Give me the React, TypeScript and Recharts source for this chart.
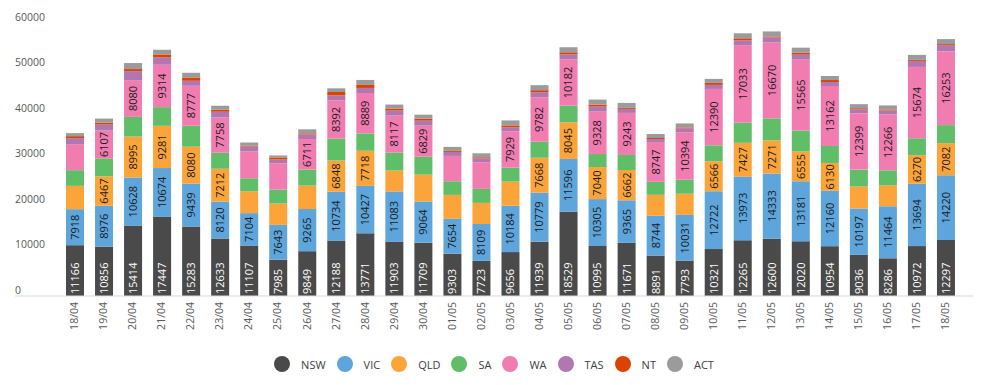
import React from 'react';
import { BarChart, Bar, XAxis, YAxis, Legend, LabelList } from 'recharts';

const dates = [
  '18/04', '19/04', '20/04', '21/04', '22/04', '23/04', '24/04', '25/04', '26/04', '27/04', '28/04', '29/04', '30/04',
  '01/05', '02/05', '03/05', '04/05', '05/05', '06/05', '07/05', '08/05', '09/05', '10/05', '11/05', '12/05', '13/05',
  '14/05', '15/05', '16/05', '17/05', '18/05',
];

const nsw = [11166, 10856, 15414, 17447, 15283, 12633, 11107, 7985, 9849, 12188, 13771, 11903, 11709, 9303, 7723, 9656, 11939, 18529, 10995, 11671, 8891, 7793, 10321, 12265, 12600, 12020, 10954, 9036, 8286, 10972, 12297];
const vic = [7918, 8976, 10628, 10674, 9439, 8120, 7104, 7643, 9265, 10734, 10427, 11083, 9064, 7654, 8109, 10184, 10779, 11596, 10305, 9365, 8744, 10031, 12722, 13973, 14333, 13181, 12160, 10197, 11464, 13694, 14220];
const qld = [5120, 6467, 8995, 9281, 8080, 7212, 4810, 4700, 5150, 6848, 7718, 4590, 5890, 5260, 4630, 5300, 7668, 8045, 7040, 6662, 4600, 4650, 6566, 7427, 7271, 6555, 6130, 4820, 4580, 6270, 7082];
const sa = [3450, 3960, 4330, 4100, 4620, 3520, 2860, 3080, 3520, 4840, 3810, 3960, 3950, 3000, 3080, 3090, 3520, 3660, 2860, 3300, 2850, 3080, 3510, 4400, 4840, 4620, 3740, 3730, 3300, 3740, 3960];
const wa = [5720, 6107, 8080, 9314, 8777, 7758, 5880, 5720, 6711, 8392, 8889, 8117, 6829, 5570, 5850, 7929, 9782, 10182, 9328, 9243, 8747, 10394, 12390, 17033, 16670, 15565, 13162, 12399, 12266, 15674, 16253];
const tas = [1320, 1310, 1980, 1610, 1100, 1250, 1090, 880, 1030, 1100, 1110, 1100, 1090, 880, 870, 890, 1100, 1110, 1100, 880, 660, 880, 890, 1100, 1110, 1100, 880, 870, 880, 1320, 1330];
const nt = [440, 440, 450, 660, 730, 440, 220, 440, 230, 730, 660, 440, 440, 220, 230, 440, 450, 440, 440, 220, 230, 220, 440, 440, 220, 440, 440, 220, 230, 220, 220];
const act = [660, 880, 1320, 1030, 1030, 880, 660, 440, 880, 810, 1100, 880, 880, 880, 870, 1100, 1100, 1110, 1100, 1100, 880, 880, 880, 1100, 1100, 1100, 880, 890, 880, 1100, 1100];

const seriesNames = ['NSW', 'VIC', 'QLD', 'SA', 'WA', 'TAS', 'NT', 'ACT'];
const seriesValues = [nsw, vic, qld, sa, wa, tas, nt, act];
const colors: Record<string, string> = {
  NSW: '#4a4a4a',
  VIC: '#5da5da',
  QLD: '#faa43a',
  SA: '#60bd68',
  WA: '#f17cb0',
  TAS: '#b276b2',
  NT: '#db4400',
  ACT: '#9b9b9b',
};
const yTicks = [0, 5000, 10000, 15000, 20000, 25000, 30000, 35000, 40000, 45000, 50000, 55000, 60000];
const LABEL_MIN = 6000;

const data = dates.map((d, i) => {
  const row: Record<string, any> = { date: d };
  seriesNames.forEach((n, k) => {
    row[n] = seriesValues[k][i];
  });
  return row;
});

const FONT = '"Open Sans", "DejaVu Sans", sans-serif';

const YTick = (props: any) => {
  const { y, payload } = props;
  return (
    <text x={7} y={y - 6} dy="0.355em" textAnchor="start" fill="#595959" fontSize={10.5} fontFamily={FONT}>
      {payload.value}
    </text>
  );
};

const XTick = (props: any) => {
  const { x, payload } = props;
  return (
    <g transform={`translate(${x},${294})`}>
      <text transform="rotate(-90)" textAnchor="end" dy="0.355em" fill="#595959" fontSize={10.5} fontFamily={FONT}>
        {payload.value}
      </text>
    </g>
  );
};

const makeLabel = (base: boolean) => (props: any) => {
  const { x, y, width, height, value } = props;
  if (value == null || Number(value) < LABEL_MIN) return null;
  const cx = Number(x) + Number(width) / 2;
  if (base) {
    const by = Number(y) + Number(height) - 2;
    return (
      <text transform={`translate(${cx},${by}) rotate(-90)`} textAnchor="start" dy="0.355em" fill="#ffffff" fontSize={11} fontFamily={FONT}>
        {value}
      </text>
    );
  }
  const cy = Number(y) + Number(height) / 2;
  return (
    <text transform={`translate(${cx},${cy}) rotate(-90)`} textAnchor="middle" dy="0.355em" fill="#1a1a1a" fontSize={11} fontFamily={FONT}>
      {value}
    </text>
  );
};

const renderLegend = () => (
  <div
    style={{
      display: 'flex',
      justifyContent: 'center',
      alignItems: 'center',
      height: 20,
      fontFamily: FONT,
      fontSize: 11,
      color: '#404040',
    }}
  >
    {seriesNames.map((n, i) => (
      <div key={n} style={{ display: 'flex', alignItems: 'center', marginRight: i === seriesNames.length - 1 ? 0 : 11 }}>
        <svg width={16} height={16} style={{ display: 'block' }}>
          <circle cx={8} cy={8} r={8} fill={colors[n]} />
        </svg>
        <span style={{ marginLeft: 11 }}>{n}</span>
      </div>
    ))}
  </div>
);

export default function App() {
  return (
    <BarChart
      width={970}
      height={370}
      data={data}
      margin={{ top: 15, right: 5, left: 7, bottom: 4 }}
      style={{ fontFamily: FONT }}
    >
      <XAxis
        dataKey="date"
        interval={0}
        height={58}
        padding={{ left: 45, right: 13 }}
        axisLine={{ stroke: '#d9d9d9', strokeWidth: 1 }}
        tickLine={false}
        tick={<XTick />}
      />
      <YAxis
        mirror
        domain={[0, 60000]}
        ticks={yTicks}
        axisLine={false}
        tickLine={false}
        tick={<YTick />}
        allowDataOverflow
      />
      <Legend verticalAlign="bottom" height={20} content={renderLegend} />
      {seriesNames.map((n, k) => (
        <Bar key={n} dataKey={n} stackId="a" fill={colors[n]} barSize={18} isAnimationActive={false}>
          {k === 0 || k === 1 || k === 2 || k === 4 ? (
            <LabelList dataKey={n} content={makeLabel(k === 0)} />
          ) : null}
        </Bar>
      ))}
    </BarChart>
  );
}
